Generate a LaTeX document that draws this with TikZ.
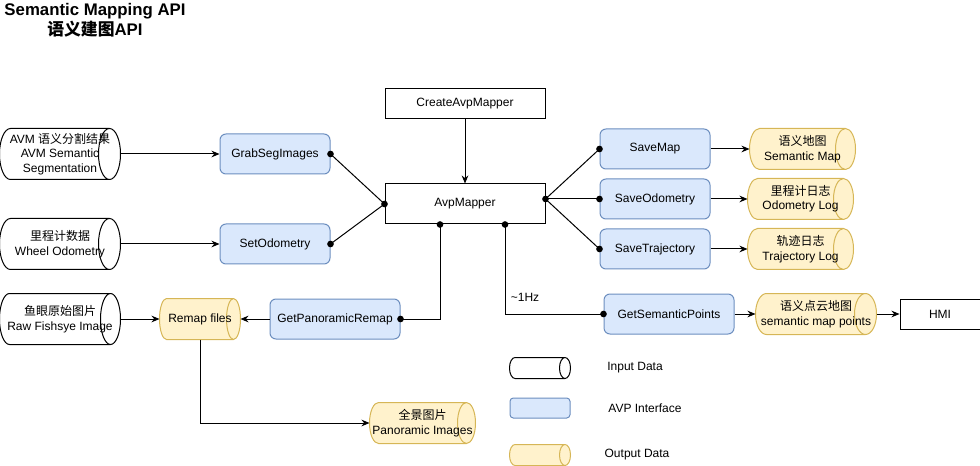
\documentclass[tikz,border=0pt]{standalone}
\usepackage{fontspec}
\setmainfont{Liberation Sans}
\newfontfamily\cjk{Noto Sans CJK SC}
\usetikzlibrary{arrows.meta,calc,backgrounds}
\definecolor{apifill}{HTML}{DAE8FC}
\definecolor{apiline}{HTML}{6C8EBF}
\definecolor{outfill}{HTML}{FFF2CC}
\definecolor{outline}{HTML}{D6B656}
\newcommand\drawcyl[4]{%
  \begin{scope}[on background layer]
  \draw[fill=#3,draw=#4,line width=0.75pt] let \p1=(#1.south west), \p2=(#1.north east),
     \n1={#2*0.75}, \n2={0.5*\y2-0.5*\y1} in
    ({\x1+\n1*1pt},\y1) -- ({\x2-\n1*1pt},\y1)
    arc[start angle=-90,end angle=90,x radius=\n1 pt,y radius=\n2]
    -- ({\x1+\n1*1pt},\y2)
    arc[start angle=90,end angle=270,x radius=\n1 pt,y radius=\n2] -- cycle
    ({\x2-\n1*1pt},\y2)
    arc[start angle=90,end angle=270,x radius=\n1 pt,y radius=\n2];
  \end{scope}}
\tikzset{
  base/.style={inner sep=0pt, align=center, font=\fontsize{9}{10.8}\selectfont, line width=0.75pt},
  api/.style={base, draw=apiline, fill=apifill, rounded corners=4.5pt, minimum width=82.5pt, minimum height=30pt},
  plain/.style={base, draw=black, minimum width=120pt, minimum height=22.5pt},
  cylbox/.style={base, minimum width=78.75pt, minimum height=30pt},
  con/.style={line width=0.75pt, -{Stealth[length=6pt,width=5pt]}},
  lnk/.style={line width=0.75pt},
}
\begin{document}
\begin{tikzpicture}[x=0.75pt,y=-0.75pt]
\useasboundingbox (0,0) rectangle (980,466);
% title
\node[font=\bfseries\fontsize{12.6}{15}\selectfont, align=center, inner sep=0pt] (title) at (95,20) {Semantic Mapping API\\{\cjk 语义建图}API};
% input data
\node[cylbox, minimum width=90pt, minimum height=37.5pt] (avm) at (60,154) {AVM {\cjk 语义分割结果}\\AVM Semantic\\Segmentation};
\node[cylbox, minimum width=90pt, minimum height=37.5pt] (odo) at (60,244) {{\cjk 里程计数据}\\Wheel Odometry};
\node[cylbox, minimum width=90pt, minimum height=37.5pt] (fish) at (60,319) {{\cjk 鱼眼原始图片}\\Raw Fishsye Image};
\drawcyl{avm}{11}{white}{black}
\drawcyl{odo}{11}{white}{black}
\drawcyl{fish}{10}{white}{black}
% api boxes
\node[api] (grab) at (275,154) {GrabSegImages};
\node[api] (seto) at (275,244) {SetOdometry};
\node[api, minimum width=97.5pt] (gpr) at (335,319) {GetPanoramicRemap};
\node[api] (smapi) at (655,149) {SaveMap};
\node[api] (soapi) at (655,199) {SaveOdometry};
\node[api] (stapi) at (655,249) {SaveTrajectory};
\node[api, minimum width=97.5pt] (gsp) at (669,314) {GetSemanticPoints};
% plain boxes
\node[plain] (create) at (465,104) {CreateAvpMapper};
\node[plain, minimum height=30pt] (avp) at (465,204) {AvpMapper};
\node[plain, minimum width=60pt] (hmi) at (940,314) {HMI};
% output data
\node[cylbox, minimum width=60pt] (remap) at (200,319) {Remap files};
\node[cylbox] (smap) at (802.5,149) {{\cjk 语义地图}\\Semantic Map};
\node[cylbox] (olog) at (800.5,199) {{\cjk 里程计日志}\\Odometry Log};
\node[cylbox] (tlog) at (800.5,249) {{\cjk 轨迹日志}\\Trajectory Log};
\node[cylbox, minimum width=90pt] (smp) at (816,314) {{\cjk 语义点云地图}\\semantic map points};
\node[cylbox] (pan) at (422.5,423) {{\cjk 全景图片}\\Panoramic Images};
\drawcyl{remap}{7}{outfill}{outline}
\drawcyl{smap}{10}{outfill}{outline}
\drawcyl{olog}{10}{outfill}{outline}
\drawcyl{tlog}{10}{outfill}{outline}
\drawcyl{smp}{11}{outfill}{outline}
\drawcyl{pan}{9}{outfill}{outline}
% legend
\node[base, minimum width=45pt, minimum height=15pt] (lin) at (540,368) {};
\drawcyl{lin}{5.5}{white}{black}
\node[api, minimum width=45pt, minimum height=15pt, rounded corners=2.5pt] (lapi) at (540,408) {};
\node[base, minimum width=45pt, minimum height=15pt] (lout) at (540,455) {};
\drawcyl{lout}{5.5}{outfill}{outline}
\node[base] (tin) at (635,368) {Input Data};
\node[base] (tapi) at (645,408) {AVP Interface};
\node[base] (tout) at (637,455) {Output Data};
% connectors
\draw[con] (avm.east) -- (grab.west);
\draw[con] (odo.east) -- (seto.west);
\draw[con] (fish.east) -- (remap.west);
\draw[con] (gpr.west) -- (remap.east);
\draw[con] (remap.south) |- (pan.west);
\draw[con] (create.south) -- (avp.north);
\draw[lnk] (grab.east) -- (avp.west);
\draw[lnk] (seto.east) -- (avp.west);
\coordinate (avpe) at ([yshift=3.75pt]avp.east);
\coordinate (avpb1) at ([xshift=-18.75pt]avp.south);
\coordinate (avpb2) at ([xshift=30pt]avp.south);
\draw[lnk] (avpe) -- (smapi.west);
\draw[lnk] (avpe) -- (soapi.west);
\draw[lnk] (avpe) -- (stapi.west);
\draw[lnk] (avpb1) |- (gpr.east);
\draw[lnk] (avpb2) |- (gsp.west);
\node[base] (hz) at (525,297) {\textasciitilde1Hz};
\draw[con] (smapi.east) -- (smap.west);
\draw[con] (soapi.east) -- (olog.west);
\draw[con] (stapi.east) -- (tlog.west);
\draw[con] (gsp.east) -- (smp.west);
\draw[con] (smp.east) -- (hmi.west);
% dots
\foreach \p in {grab.east, seto.east, avp.west, avpe, smapi.west, soapi.west, stapi.west, avpb1, avpb2, gpr.east, gsp.west}
  \fill (\p) circle[radius=2.5pt];
\end{tikzpicture}
\end{document}
